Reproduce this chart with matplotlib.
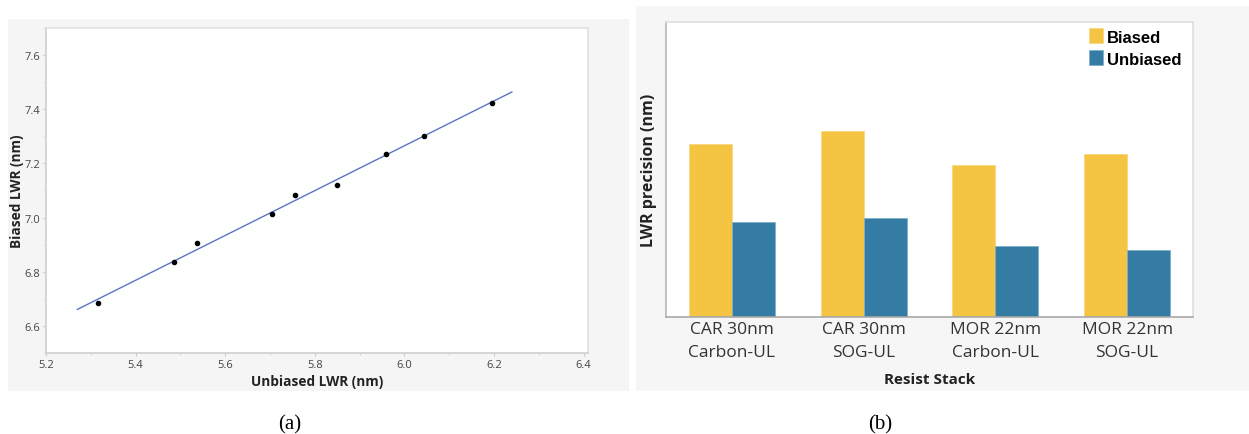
import numpy as np
import matplotlib
matplotlib.use("Agg")
import matplotlib.pyplot as plt
from matplotlib.patches import Rectangle
from matplotlib.ticker import MultipleLocator

# (a) biased vs unbiased LWR, nm
unbiased_lwr = [5.315, 5.486, 5.538, 5.704, 5.757, 5.850, 5.960, 6.043, 6.196]
biased_lwr = [6.685, 6.835, 6.905, 7.013, 7.085, 7.122, 7.236, 7.300, 7.424]
fit_span = [5.27, 6.24]          # x-range of the drawn regression line

# (b) LWR precision per resist stack (relative units, axis is unlabeled)
stacks = ["CAR 30nm\nCarbon-UL", "CAR 30nm\nSOG-UL", "MOR 22nm\nCarbon-UL", "MOR 22nm\nSOG-UL"]
prec_biased = [0.176, 0.189, 0.155, 0.166]
prec_unbiased = [0.097, 0.101, 0.072, 0.068]

W, H = 1249, 435
fig = plt.figure(figsize=(W / 100, H / 100), dpi=100)
fig.patch.set_facecolor("white")

def px_rect(x0, y0, x1, y1):
    # pixel box (top-left origin) -> figure fraction [l, b, w, h]
    return [x0 / W, (H - y1) / H, (x1 - x0) / W, (y1 - y0) / H]

# light gray panel backgrounds
for (x0, y0, x1, y1), fc in [((8, 20, 629, 392), "#f5f5f5"), ((636, 7, 1249, 392), "#f6f6f6")]:
    l, b, w, h = px_rect(x0, y0, x1, y1)
    fig.patches.append(Rectangle((l, b), w, h, transform=fig.transFigure,
                                 facecolor=fc, edgecolor="none", zorder=-10))

tick_font = "Open Sans"

# ---------- (a) scatter + fit ----------
ax = fig.add_axes(px_rect(46, 29, 588, 354))
ax.set_facecolor("white")
ax.scatter(unbiased_lwr, biased_lwr, s=9, color="black", zorder=3)
k, c = np.polyfit(unbiased_lwr, biased_lwr, 1)
xf = np.array(fit_span)
ax.plot(xf, k * xf + c, color="#5577c4", lw=1.0, zorder=2)
ax.set_xlim(5.2, 6.41)
ax.set_ylim(6.5, 7.7)
ax.xaxis.set_minor_locator(MultipleLocator(0.1))
ax.yaxis.set_minor_locator(MultipleLocator(0.1))
ax.set_xticks([5.2, 5.4, 5.6, 5.8, 6.0, 6.2, 6.4])
ax.set_xticklabels(["5.2", "5.4", "5.6", "5.8", "6.0", "6.2", "6.4"])
ax.set_yticks([6.6, 6.8, 7.0, 7.2, 7.4, 7.6])
ax.set_yticklabels(["6.6", "6.8", "7.0", "7.2", "7.4", "7.6"])
ax.tick_params(which="both", direction="out", color="#c8c8c8", labelsize=8,
               labelcolor="#444444", pad=1.5)
ax.tick_params(which="major", length=2.5)
ax.tick_params(which="minor", length=1.5)
for lab in ax.get_xticklabels() + ax.get_yticklabels():
    lab.set_fontfamily(tick_font)
for side, col in [("left", "#cfcfcf"), ("bottom", "#cfcfcf"), ("top", "#e2e2e2"), ("right", "#e2e2e2")]:
    ax.spines[side].set_color(col)
    ax.spines[side].set_linewidth(1.2)
ax.set_xlabel("Unbiased LWR (nm)", fontsize=9.8, fontweight="bold", family=tick_font,
              color="#222222")
ax.set_ylabel("Biased LWR (nm)", fontsize=9.8, fontweight="bold", family=tick_font,
              color="#222222")
ax.xaxis.set_label_coords(0.5, -0.085)
ax.yaxis.set_label_coords(-0.054, 0.5)
ax.xaxis.label.set_va("center")
ax.yaxis.label.set_va("center")

# ---------- (b) grouped bars ----------
bx = fig.add_axes(px_rect(666, 23, 1193, 318))
bx.set_facecolor("white")
pos = np.arange(len(stacks))
bw = 0.327
bx.bar(pos - bw / 2, prec_biased, width=bw, color="#f6c443", edgecolor="#f8d77e",
       linewidth=0.6, label="Biased")
bx.bar(pos + bw / 2, prec_unbiased, width=bw, color="#347ca3", edgecolor="#7fb0cc",
       linewidth=0.6, label="Unbiased")
bx.set_xlim(-0.5, 3.5)
bx.set_ylim(0, 0.30)
bx.set_yticks([])
bx.set_xticks(pos)
bx.set_xticklabels(stacks, fontsize=12.5, family=tick_font, color="#333333", linespacing=1.6)
bx.tick_params(axis="x", length=0, pad=3)
bx.spines["left"].set_color("#b8b8b8")
bx.spines["bottom"].set_color("#a8a8a8")
bx.spines["top"].set_color("#e0e0e0")
bx.spines["right"].set_color("#e0e0e0")
for s in bx.spines.values():
    s.set_linewidth(1.2)
bx.set_xlabel("Resist Stack", fontsize=11, fontweight="bold", family=tick_font,
              color="#222222")
bx.set_ylabel("LWR precision (nm)", fontsize=11.5, fontweight="bold", family=tick_font,
              color="#222222")
bx.xaxis.set_label_coords(0.5, -0.21)
bx.yaxis.set_label_coords(-0.032, 0.5)
bx.xaxis.label.set_va("center")
bx.yaxis.label.set_va("center")
leg = bx.legend(loc="upper right", bbox_to_anchor=(1.0, 1.018), frameon=False,
                prop={"family": "Liberation Sans", "weight": "bold", "size": 12},
                handlelength=0.85, handleheight=1.0, handletextpad=0.25,
                labelspacing=0.35, borderaxespad=0.3)

# panel captions
fig.text(290 / W, (H - 425) / H, "(a)", ha="center", va="center",
         family="Liberation Serif", fontsize=15)
fig.text(880 / W, (H - 425) / H, "(b)", ha="center", va="center",
         family="Liberation Serif", fontsize=15)

fig.savefig("out.png", dpi=100, facecolor="white")
